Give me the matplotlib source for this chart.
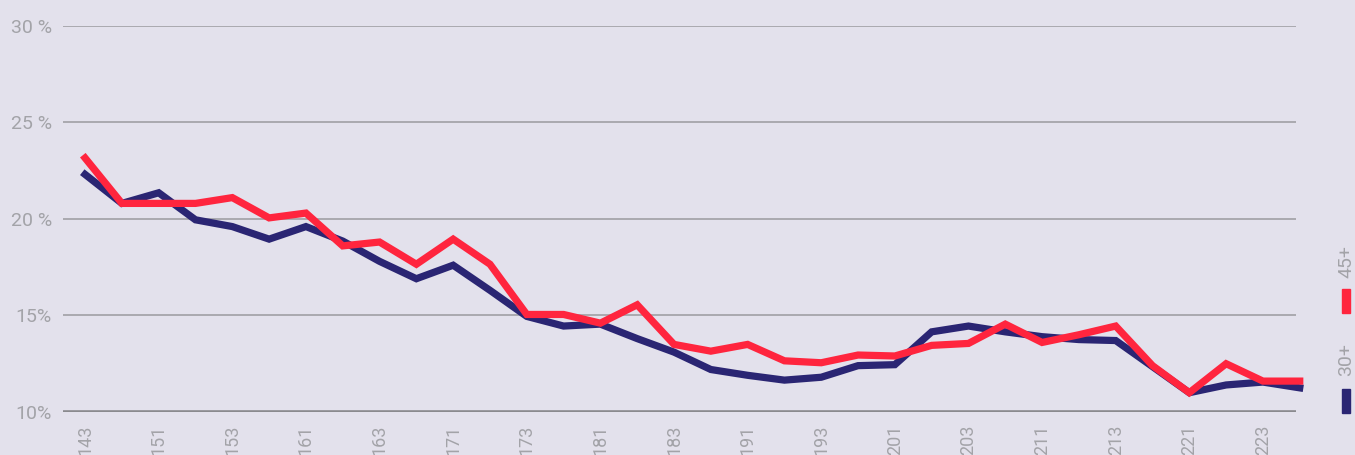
import matplotlib.pyplot as plt
from matplotlib.patches import Rectangle

# quarter codes (yy + quarter), one point per quarter
quarters = ['143', '144', '151', '152', '153', '154', '161', '162', '163', '164',
            '171', '172', '173', '174', '181', '182', '183', '184', '191', '192',
            '193', '194', '201', '202', '203', '204', '211', '212', '213', '214',
            '221', '222', '223', '224']

age_30 = [22.3, 20.8, 21.35, 19.95, 19.6, 18.95, 19.6, 18.85, 17.8, 16.9,
          17.6, 16.3, 14.95, 14.45, 14.55, 13.8, 13.1, 12.2, 11.9, 11.65,
          11.8, 12.4, 12.45, 14.15, 14.45, 14.15, 13.9, 13.75, 13.7, 12.35,
          11.0, 11.4, 11.55, 11.25]
age_45 = [23.15, 20.8, 20.8, 20.8, 21.1, 20.05, 20.3, 18.6, 18.8, 17.65,
          18.95, 17.65, 15.05, 15.05, 14.6, 15.55, 13.5, 13.15, 13.5, 12.65,
          12.55, 12.95, 12.9, 13.45, 13.55, 14.55, 13.6, 14.0, 14.45, 12.4,
          11.0, 12.5, 11.6, 11.6]

yticks = [10, 15, 20, 25, 30]
ylabels = ['10%', '15%', '20 %', '25 %', '30 %']

navy = '#2a2573'
red = '#ff253e'
bg = '#e3e1ec'
grey_text = '#a3a3a8'

plt.rcParams['font.family'] = ['Roboto', 'DejaVu Sans']

fig = plt.figure(figsize=(13.55, 4.55), dpi=100, facecolor=bg)
ax = fig.add_axes([0.0465, 0.0945, 0.91, 0.849], facecolor=bg)

x = list(range(len(quarters)))
ax.plot(x, age_30, color=navy, lw=5.2, solid_joinstyle='miter', clip_on=False, zorder=3)
ax.plot(x, age_45, color=red, lw=5.2, solid_joinstyle='miter', clip_on=False, zorder=4)

ax.set_ylim(10, 30)
ax.set_xlim(-0.6, 32.9)
ax.set_yticks(yticks)
ax.set_yticklabels(ylabels)
ax.set_xticks(x[::2])
ax.set_xticklabels(quarters[::2], rotation=90, va='top')

for y in yticks[1:]:
    ax.axhline(y, color='#9a9a9e', lw=1.1, zorder=1)
ax.axhline(10, color='#8a8a8e', lw=2.6, zorder=2)

for s in ax.spines.values():
    s.set_visible(False)
ax.tick_params(axis='both', length=0, colors=grey_text)
ax.tick_params(axis='y', pad=8, labelsize=14)
ax.tick_params(axis='x', pad=9, labelsize=13)

# vertical legend on the right
W, H = 1355, 455
def fx(px):
    return px / W
def fy(py):
    return 1 - py / H

fig.text(fx(1346), fy(262), '45+', rotation=90, ha='center', va='center',
         color=grey_text, fontsize=14)
fig.patches.append(Rectangle((fx(1342), fy(313)), 8 / W, 24 / H,
                             transform=fig.transFigure, color=red, figure=fig))
fig.text(fx(1346), fy(360), '30+', rotation=90, ha='center', va='center',
         color=grey_text, fontsize=14)
fig.patches.append(Rectangle((fx(1342), fy(413)), 8 / W, 24 / H,
                             transform=fig.transFigure, color=navy, figure=fig))

fig.savefig('out.png', dpi=100, facecolor=bg)
